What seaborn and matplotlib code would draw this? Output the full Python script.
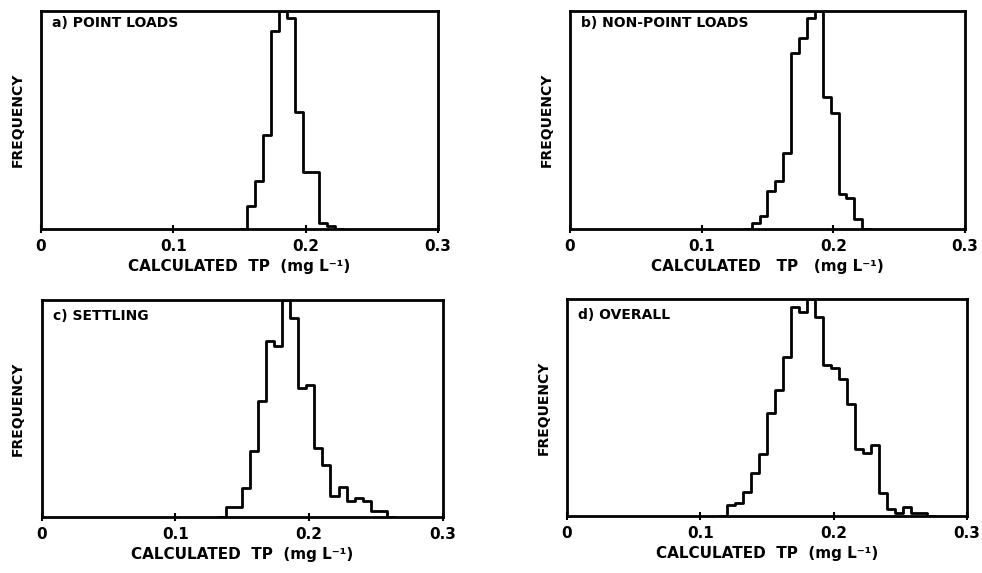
import numpy as np
import pandas as pd
import matplotlib
matplotlib.use("Agg")
import matplotlib.pyplot as plt
import seaborn as sns

# ---- data (relative frequencies) ----
bin_width = 0.006
titles = ["a) POINT LOADS", "b) NON-POINT LOADS", "c) SETTLING", "d) OVERALL"]
xlabels = ["CALCULATED  TP  (mg L⁻¹)", "CALCULATED   TP   (mg L⁻¹)",
           "CALCULATED  TP  (mg L⁻¹)", "CALCULATED  TP  (mg L⁻¹)"]
xticks = [0, 0.1, 0.2, 0.3]
xticklabels = ["0", "0.1", "0.2", "0.3"]

start_a = 0.156
freq_a = [0.106, 0.222, 0.43, 0.907, 1.0, 0.97, 0.537, 0.26, 0.26, 0.028, 0.014]

start_b = 0.138
freq_b = [0.026, 0.059, 0.175, 0.22, 0.35, 0.807, 0.877, 0.97, 1.0, 0.607,
          0.53, 0.162, 0.144, 0.044]

start_c = 0.138
freq_c = [0.047, 0.047, 0.135, 0.302, 0.535, 0.813, 0.788, 1.0, 0.916, 0.595,
          0.609, 0.319, 0.241, 0.098, 0.139, 0.072, 0.089, 0.072, 0.026, 0.026]

start_d = 0.120
freq_d = [0.051, 0.06, 0.112, 0.197, 0.286, 0.476, 0.581, 0.731, 0.962, 0.941,
          1.0, 0.918, 0.696, 0.68, 0.63, 0.516, 0.307, 0.289, 0.327, 0.107,
          0.031, 0.015, 0.04, 0.012, 0.012]

starts = [start_a, start_b, start_c, start_d]
freqs = [freq_a, freq_b, freq_c, freq_d]

# ---- figure ----
sns.set_style("white")
plt.rcParams["font.family"] = ["DejaVu Sans"]
plt.rcParams["font.weight"] = "bold"
for k in ["text.color", "axes.labelcolor", "xtick.color", "ytick.color",
          "axes.edgecolor"]:
    plt.rcParams[k] = "black"

fig = plt.figure(figsize=(9.82, 5.73), dpi=100)
rects = [
    [0.0418, 0.6003, 0.4043, 0.3805],
    [0.5804, 0.6003, 0.4022, 0.3805],
    [0.0425, 0.0977, 0.4084, 0.3787],
    [0.5774, 0.0995, 0.4073, 0.3787],
]
title_y = [0.945, 0.945, 0.925, 0.925]

for i in range(4):
    ax = fig.add_axes(rects[i])
    n = len(freqs[i])
    edges = starts[i] + bin_width * np.arange(n + 1)
    centers = edges[:-1] + bin_width / 2
    df = pd.DataFrame({"tp": centers, "freq": freqs[i]})
    # one empty bin on each side so the outline drops to the baseline
    sns.histplot(data=df, x="tp", weights="freq", binwidth=bin_width,
                 binrange=(float(edges[0] - bin_width),
                           float(edges[-1] + bin_width)),
                 element="step", fill=False, color="black", linewidth=2.0,
                 ax=ax)
    ax.set_xlim(0, 0.3)
    ax.set_ylim(0, 1.0)
    ax.set_xticks(xticks)
    ax.set_xticklabels(xticklabels, fontsize=11, fontweight="bold")
    ax.set_yticks([])
    ax.tick_params(axis="x", direction="inout", length=6, width=1.5, pad=4,
                   bottom=True, colors="black")
    for s in ax.spines.values():
        s.set_visible(True)
        s.set_linewidth(2.0)
        s.set_color("black")
    ax.set_xlabel(xlabels[i], fontsize=11, fontweight="bold", labelpad=4,
                  color="black")
    ax.set_ylabel("FREQUENCY", fontsize=10, fontweight="bold", labelpad=12,
                  color="black")
    ax.text(0.028, title_y[i], titles[i], transform=ax.transAxes,
            fontsize=10, fontweight="bold", ha="left", va="center",
            color="black")

fig.savefig("out.png", dpi=100)
